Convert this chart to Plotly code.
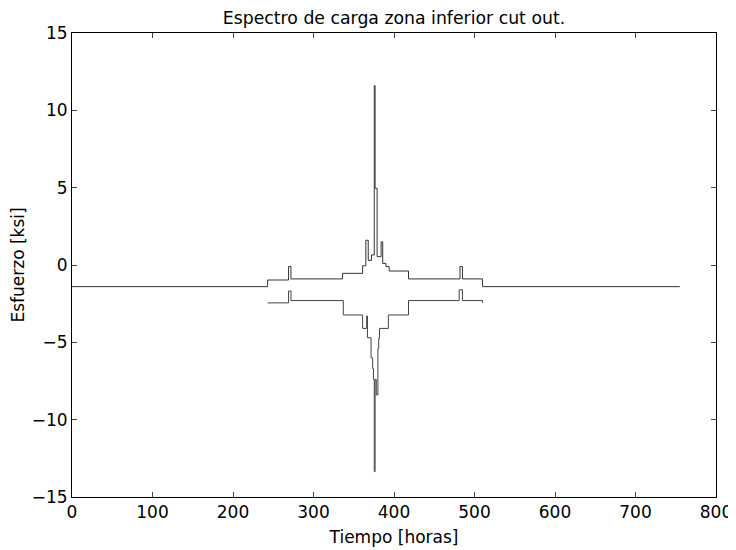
import plotly.graph_objects as go

# upper envelope (time in hours, stress in ksi), drawn as steps
upper_t = [0, 243, 269, 272, 336, 361, 365, 368, 372, 375.5, 376.5, 379, 384, 386, 390, 394, 418, 482, 485, 510, 755]
upper_v = [-1.4, -0.97, -0.1, -0.9, -0.54, -0.05, 1.6, 0.3, 0.65, 11.6, 4.96, 0.54, 1.5, 0.1, -0.1, -0.39, -0.9, -0.1, -0.9, -1.4, -1.4]

# lower envelope
lower_t = [243, 269, 272, 337, 361, 366, 367, 371.5, 373.5, 374.5, 375.5, 376.5, 378, 380, 381, 382, 393, 418, 481, 485, 510]
lower_v = [-2.45, -1.68, -2.3, -3.23, -4.1, -3.3, -4.7, -6.0, -6.7, -7.4, -13.36, -7.4, -8.4, -5.4, -4.74, -4.1, -3.23, -2.3, -1.6, -2.3, -2.45]

x_ticks = [0, 100, 200, 300, 400, 500, 600, 700, 800]
y_ticks = [-15, -10, -5, 0, 5, 10, 15]

fig = go.Figure()
fig.add_trace(go.Scatter(x=upper_t, y=upper_v, mode='lines',
                         line=dict(color='#333333', width=1, shape='hv')))
fig.add_trace(go.Scatter(x=lower_t, y=lower_v, mode='lines',
                         line=dict(color='#444444', width=1, shape='hv')))

axis_font = dict(family='DejaVu Sans', size=17, color='black')

# page body adds an 8px offset, so the figure is a bit smaller than the window
fig.update_layout(
    width=728, height=542,
    margin=dict(l=64, r=20, t=25, b=53),
    paper_bgcolor='white', plot_bgcolor='white',
    showlegend=False,
    title=dict(text='Espectro de carga zona inferior cut out.', x=0.5, xref='paper',
               y=1 - 9.5 / 542, yanchor='middle',
               font=dict(family='DejaVu Sans', size=17.3, color='black')),
    xaxis=dict(range=[0, 800], tickvals=x_ticks, ticks='inside', ticklen=5,
               showgrid=False, zeroline=False, showline=True, linecolor='black',
               linewidth=1, mirror='ticks', tickfont=axis_font, automargin=False,
               title=dict(text='Tiempo [horas]', font=axis_font, standoff=9)),
    yaxis=dict(range=[-15, 15], tickvals=y_ticks, ticks='inside', ticklen=5,
               showgrid=False, zeroline=False, showline=True, linecolor='black',
               linewidth=1, mirror='ticks', tickfont=axis_font, automargin=False,
               title=dict(text='Esfuerzo [ksi]', font=axis_font, standoff=9)),
)

fig.write_html("out.html")
